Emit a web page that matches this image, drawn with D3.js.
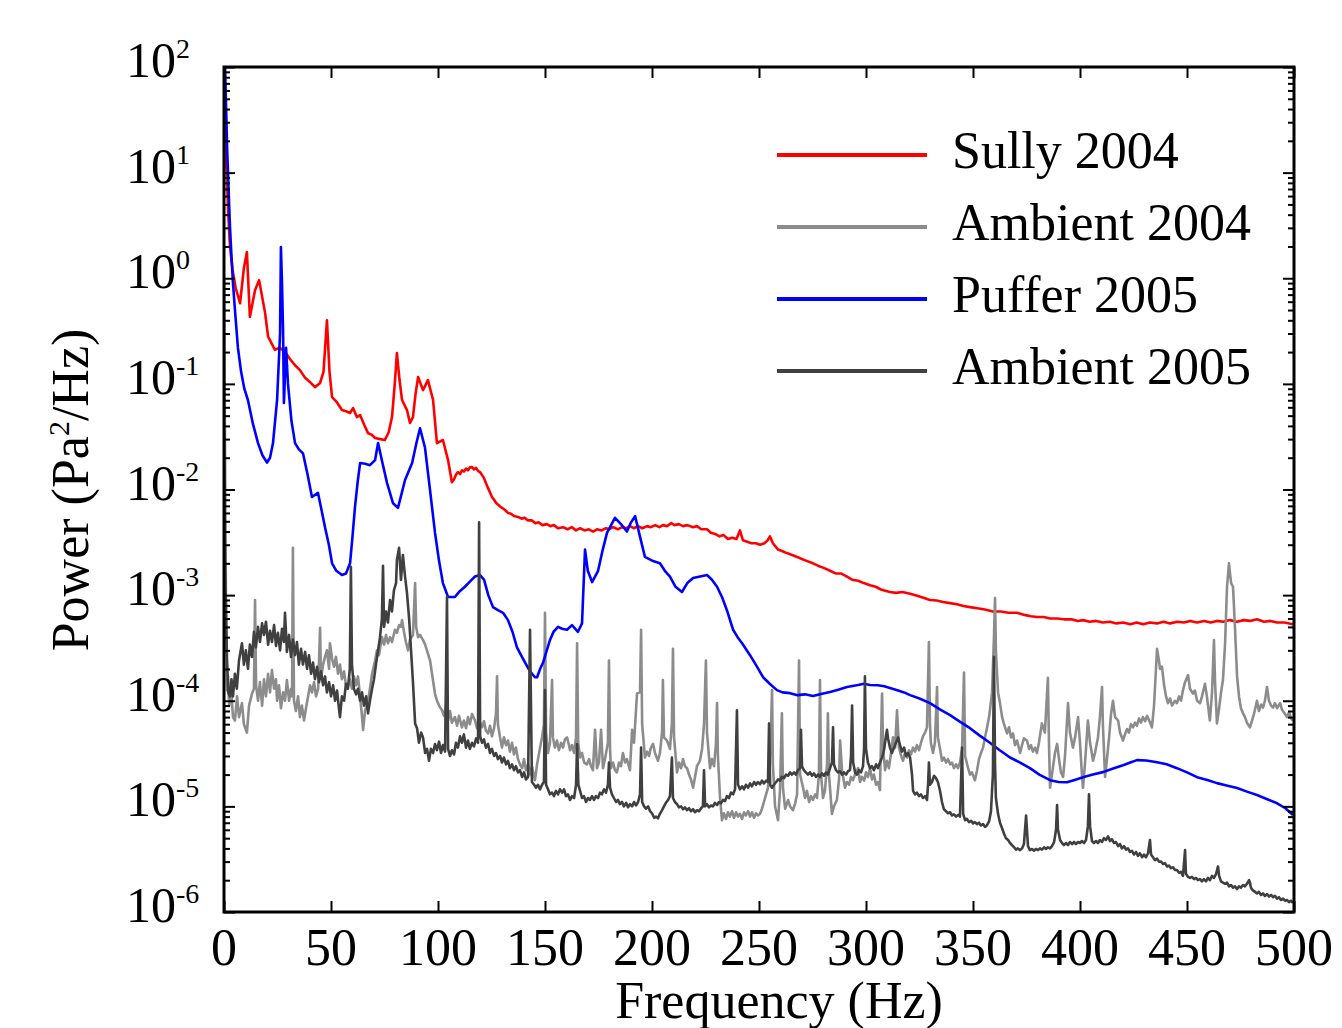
<!DOCTYPE html>
<html><head><meta charset="utf-8">
<script src="https://cdn.jsdelivr.net/npm/d3@7"></script>
<style>body{margin:0;background:#fff}</style>
</head><body><svg id="c" width="1342" height="1028"></svg>
<script>
// [frequency Hz, power Pa^2/Hz]
const sully2004 = [[0.5,40],[1,13],[2,4.0],[2.8,2.0],[4,1.2],[5.5,0.8],[7.5,0.58],[9.3,1.25],[10.7,1.77],[12.1,0.43],[14.5,0.77],[16.4,0.96],[19.2,0.47],[20.6,0.28],[23.8,0.21],[26,0.22],[28.5,0.20],[31,0.17],[33.2,0.15],[35.5,0.135],[37.9,0.114],[40,0.105],[42.5,0.093],[44.9,0.102],[46.5,0.13],[48.1,0.40],[49.3,0.13],[50.5,0.075],[52.5,0.068],[55.1,0.0565],[57,0.055],[58.9,0.053],[60.3,0.059],[62.1,0.0485],[63.6,0.0507],[65.5,0.041],[67.3,0.0342],[69,0.033],[70.6,0.0307],[73,0.030],[75.2,0.0294],[77,0.035],[78.5,0.0485],[79.8,0.10],[80.8,0.196],[82,0.11],[83.2,0.0703],[85.5,0.0565],[86.9,0.0426],[88.3,0.0485],[89.5,0.08],[90.7,0.116],[93.0,0.0873],[95.3,0.1086],[97.7,0.0703],[99.5,0.0275],[102.3,0.0294],[104.7,0.019],[106.5,0.0117],[107.5,0.0125],[108.4,0.0138],[109.3,0.0146],[110.3,0.0140],[111.2,0.0152],[112.1,0.0148],[113.1,0.0158],[114.0,0.0152],[114.9,0.0162],[115.9,0.0163],[116.8,0.0155],[117.8,0.0160],[118.7,0.0150],[119.6,0.0146],[120.6,0.0137],[121.5,0.0128],[122.4,0.0115],[123.4,0.0103],[124.3,0.0094],[125.2,0.0085],[126.2,0.0080],[127.1,0.0075],[128.0,0.0072],[129.0,0.0069],[130.4,0.0066],[131.3,0.0064],[132.7,0.0060],[134.1,0.0059],[135.5,0.0056],[137.4,0.0055],[139.0,0.0053],[140.5,0.0054],[142.0,0.0051],[143.9,0.0051],[145.5,0.0048],[147.0,0.0049],[148.8,0.0046],[150.9,0.0047],[152.5,0.0045],[154.2,0.0046],[156.0,0.0043],[158.4,0.0044],[160.5,0.0042],[162.5,0.0044],[164.5,0.0041],[166.4,0.0043],[168.5,0.0041],[170.5,0.0042],[172.5,0.0040],[174.3,0.0042],[176.5,0.0041],[178.5,0.0043],[180.0,0.0042],[181.8,0.0044],[184.0,0.0042],[186.0,0.0044],[188.0,0.0043],[189.7,0.0045],[191.5,0.0043],[193.5,0.0045],[195.5,0.0043],[197.7,0.0045],[199.5,0.0044],[201.5,0.0046],[203.5,0.0044],[205.1,0.0046],[207.0,0.0045],[209.0,0.0048],[210.5,0.0046],[212.5,0.0047],[214.5,0.0045],[216.5,0.0046],[219.2,0.0044],[221.0,0.0045],[223.0,0.0042],[225.7,0.0042],[227.5,0.0039],[229.5,0.0038],[231.5,0.0036],[233.5,0.0037],[235.5,0.0034],[237.5,0.0035],[239.5,0.0034],[241.1,0.0041],[242.5,0.0033],[244.5,0.0032],[246.5,0.0031],[248.5,0.0031],[250.5,0.0030],[252.5,0.0031],[254.0,0.0033],[255.1,0.0036],[256.5,0.0031],[258.9,0.0027],[261.0,0.0026],[263.0,0.0025],[265.5,0.0024],[267.8,0.0023],[270.0,0.0022],[272.5,0.0021],[275.2,0.0020],[277.5,0.0019],[280.5,0.0018],[283.2,0.0017],[286.0,0.0016],[288.5,0.0016],[291.1,0.0015],[293.5,0.0014],[296.3,0.00137],[299.0,0.0013],[301.9,0.00124],[304.5,0.0012],[307.0,0.00113],[309.0,0.0011],[311.2,0.00107],[314.0,0.00105],[317.0,0.00107],[320.6,0.00103],[323.5,0.00099],[326.5,0.00095],[329.9,0.0009],[333.0,0.00089],[336.0,0.00086],[339.3,0.00084],[342.5,0.00082],[345.5,0.00079],[348.6,0.00077],[352.0,0.00075],[355.5,0.00073],[359.3,0.0007],[363.0,0.0007],[366.5,0.00068],[370.6,0.00068],[374.0,0.00065],[377.0,0.00063],[379.9,0.00062],[383.0,0.00062],[386.0,0.0006],[389.3,0.0006],[392.5,0.00059],[396.0,0.00059],[399.0,0.00057],[401.4,0.00058],[404.5,0.00056],[407.5,0.00057],[410.7,0.00055],[414.0,0.00056],[417.0,0.00054],[420.1,0.00055],[423.5,0.00053],[426.5,0.00055],[429.5,0.00053],[432.7,0.00055],[436.0,0.00054],[439.0,0.00056],[442.1,0.00054],[445.5,0.00056],[448.5,0.00055],[451.5,0.00057],[454.7,0.00055],[458.0,0.00057],[461.0,0.00055],[464.0,0.00057],[467.0,0.00056],[470.0,0.00058],[473.4,0.00056],[476.5,0.00058],[479.5,0.00057],[482.7,0.00059],[486.0,0.00056],[489.0,0.00057],[492.1,0.00055],[495.5,0.00055],[499.5,0.00053]];

const ambient2004 = [[0,1.0],[0.5,0.0236],[0.9,9.0e-4],[1.4,1.26e-4],[1.9,1.7e-4],[2.4,9e-5],[3.3,1.3e-4],[4.2,7e-5],[5.1,6.5e-5],[6.1,1.1e-4],[7.0,7e-5],[8.4,9.5e-5],[9.3,6e-5],[10.7,5.0e-5],[11.7,9e-5],[13.1,1.17e-4],[14.0,1.3e-4],[14.5,9.0e-4],[15.0,1.4e-4],[15.9,1.0e-4],[16.8,1.5e-4],[17.8,9e-5],[18.7,1.6e-4],[19.6,1.1e-4],[20.6,1.8e-4],[21.5,1.2e-4],[22.4,1.95e-4],[23.4,1.3e-4],[24.3,1.6e-4],[24.8,1.0e-4],[25.7,1.4e-4],[26.6,8.5e-5],[27.6,1.2e-4],[28.5,1.0e-4],[29.4,1.57e-4],[30.4,1.0e-4],[31.3,1.3e-4],[31.8,1.1e-4],[32.2,2.8e-3],[32.7,1.0e-4],[33.6,8e-5],[34.6,1.1e-4],[35.5,7e-5],[36.4,9e-5],[37.4,6.5e-5],[38.3,8.5e-5],[39.3,1.1e-4],[40.2,1.4e-4],[41.1,1.2e-4],[42.1,1.5e-4],[43.0,1.1e-4],[44.0,1.3e-4],[44.9,4.9e-4],[45.3,1.6e-4],[46.3,2.2e-4],[47.2,2.6e-4],[48.1,3.0e-4],[49.1,2.0e-4],[49.5,3.5e-4],[50.5,2.5e-4],[51.4,2.1e-4],[52.3,2.6e-4],[53.3,1.8e-4],[54.2,2.2e-4],[55.1,1.6e-4],[56.1,1.9e-4],[57.0,1.4e-4],[57.9,1.35e-4],[58.9,1.6e-4],[59.8,1.3e-4],[60.7,1.7e-4],[61.7,1.4e-4],[62.6,1.7e-4],[63.6,1.1e-4],[64.5,7e-5],[65.0,5.3e-5],[65.9,8e-5],[67.3,1.0e-4],[68.2,1.3e-4],[69.2,1.8e-4],[70.6,2.4e-4],[71.5,3.0e-4],[72.4,2.7e-4],[73.8,4.0e-4],[74.8,3.4e-4],[75.7,4.2e-4],[76.6,3.5e-4],[77.6,4.0e-4],[78.5,3.6e-4],[79.9,4.7e-4],[80.8,4.4e-4],[81.8,5.2e-4],[82.7,5.0e-4],[83.2,5.8e-4],[84.1,4.5e-4],[85.0,3.6e-4],[86.0,3.0e-4],[86.9,3.8e-4],[88.3,4.2e-4],[89.3,1.3e-3],[89.8,5.0e-4],[90.7,4.0e-4],[91.6,4.2e-4],[93.0,3.75e-4],[94.0,3.4e-4],[95.3,2.8e-4],[96.3,2.4e-4],[97.2,1.8e-4],[98.6,1.17e-4],[99.5,1.0e-4],[100.5,9e-5],[101.9,8.1e-5],[102.8,7.2e-5],[103.7,9.0e-5],[104.7,6.5e-5],[105.6,8e-5],[106.5,6.2e-5],[107.9,7.0e-5],[108.9,5.8e-5],[109.8,7.2e-5],[111.2,5.6e-5],[112.1,6.5e-5],[113.1,5.5e-5],[114.0,7.0e-5],[114.9,6.0e-5],[115.9,7.5e-5],[117.3,6.5e-5],[118.2,5.5e-5],[119.2,6.5e-5],[120.6,5.6e-5],[121.5,6.4e-5],[122.4,5.2e-5],[123.4,4.9e-5],[124.3,5.8e-5],[125.2,4.6e-5],[126.2,5.5e-5],[127.1,7.5e-5],[127.6,1.7e-4],[128.0,6.0e-5],[129.0,4.5e-5],[129.9,3.6e-5],[130.8,4.5e-5],[131.8,3.8e-5],[132.7,4.2e-5],[133.6,3.3e-5],[134.6,4.0e-5],[135.5,3.1e-5],[136.4,3.6e-5],[137.4,2.8e-5],[138.3,2.5e-5],[139.3,2.3e-5],[140.2,2.8e-5],[141.1,2.2e-5],[142.1,2.5e-5],[143.0,2.0e-5],[143.9,2.4e-5],[145.3,1.77e-5],[146.3,2.5e-5],[147.7,3.6e-5],[148.6,4.5e-5],[149.5,6e-5],[150.0,6.8e-4],[150.5,5e-5],[151.4,3.2e-5],[152.3,4.0e-5],[153.3,1.57e-4],[153.7,4.5e-5],[154.6,3.6e-5],[155.6,4.2e-5],[156.5,3.4e-5],[157.5,4.0e-5],[158.4,3.6e-5],[159.3,4.3e-5],[160.3,4.5e-5],[161.2,3.8e-5],[161.7,3.4e-5],[162.6,3.8e-5],[163.6,3.2e-5],[164.5,4.5e-5],[165.0,3.5e-4],[165.5,4.0e-5],[166.4,2.9e-5],[167.3,3.2e-5],[168.3,2.6e-5],[169.6,2.5e-5],[170.6,2.8e-5],[171.5,2.4e-5],[172.4,2.2e-5],[173.4,5.3e-5],[174.3,2.3e-5],[175.2,2.6e-5],[176.2,5.3e-5],[177.1,2.3e-5],[178.0,2.8e-5],[179.4,4.0e-5],[179.9,2.4e-4],[180.4,3.5e-5],[180.8,2.3e-5],[181.8,2.6e-5],[182.7,2.2e-5],[183.6,2.1e-5],[184.6,2.6e-5],[185.5,2.4e-5],[186.4,3.2e-5],[187.4,2.6e-5],[188.3,2.8e-5],[189.7,2.2e-5],[190.7,5.3e-5],[191.6,4.0e-5],[193.0,1.17e-4],[194.4,1.2e-4],[194.9,4.7e-4],[195.4,6e-5],[196.7,2.9e-5],[197.7,3.3e-5],[198.6,3.0e-5],[199.5,3.6e-5],[200.5,3.9e-5],[201.4,3.2e-5],[202.8,2.7e-5],[203.7,3.2e-5],[204.7,5.0e-5],[205.1,1.57e-4],[205.6,4.5e-5],[207.0,4.2e-5],[208.4,3.5e-5],[209.3,6.0e-5],[209.8,3.1e-4],[210.3,4.5e-5],[211.7,2.1e-5],[212.6,2.6e-5],[213.6,2.3e-5],[214.5,2.8e-5],[215.4,2.4e-5],[216.4,2.3e-5],[217.3,2.0e-5],[218.2,1.8e-5],[219.2,1.5e-5],[220.1,1.9e-5],[221.0,2.4e-5],[222.4,2.7e-5],[223.4,3.5e-5],[224.3,6e-5],[225.2,2.4e-4],[225.7,5e-5],[226.6,3.0e-5],[227.1,2.3e-5],[228.0,2.8e-5],[229.0,2.4e-5],[229.9,4.0e-5],[230.4,9.5e-5],[230.8,3.0e-5],[231.8,1.2e-5],[232.7,7.4e-6],[233.6,8.6e-6],[234.6,7.6e-6],[235.5,8.8e-6],[236.4,8.0e-6],[237.4,9.0e-6],[238.3,7.8e-6],[239.3,8.8e-6],[240.2,8.0e-6],[241.1,8.5e-6],[242.1,7.6e-6],[243.0,8.8e-6],[243.9,8.2e-6],[244.9,9.0e-6],[245.8,8.0e-6],[246.7,8.8e-6],[247.7,7.8e-6],[248.6,8.6e-6],[249.5,8.2e-6],[250.5,8.5e-6],[251.4,9.5e-6],[252.3,1.1e-5],[253.3,1.3e-5],[254.2,1.5e-5],[255.1,2.5e-5],[256.1,1.26e-4],[256.5,2.5e-5],[257.5,1.0e-5],[258.9,7.4e-6],[259.8,1.4e-5],[260.7,7.6e-5],[261.2,1.5e-5],[262.2,9.5e-6],[263.6,1.15e-5],[264.5,1.0e-5],[265.9,9.2e-6],[266.8,1.05e-5],[267.8,1.3e-5],[268.7,2.4e-4],[269.2,2.0e-5],[270.6,1.5e-5],[271.5,1.2e-5],[272.4,1.4e-5],[273.4,1.1e-5],[274.3,1.25e-5],[275.2,1.15e-5],[276.2,1.3e-5],[277.1,1.2e-5],[278.0,2.0e-5],[278.5,1.57e-4],[279.0,2.0e-5],[279.9,1.2e-5],[280.8,1.4e-5],[281.8,2.5e-5],[282.2,7.6e-5],[282.7,2.0e-5],[284.1,8.5e-6],[285.0,1.0e-5],[286.4,1.15e-5],[287.4,1.8e-5],[287.9,4.2e-5],[288.8,2.2e-5],[290.2,1.5e-5],[291.1,1.7e-5],[292.1,1.6e-5],[293.0,1.9e-5],[293.9,1.77e-5],[294.9,2.0e-5],[296.3,2.3e-5],[297.2,1.7e-5],[298.1,1.9e-5],[299.1,1.75e-5],[300.0,2.1e-5],[300.9,1.9e-5],[301.9,2.3e-5],[302.8,1.8e-5],[303.7,2.0e-5],[304.7,1.6e-5],[305.6,1.7e-5],[306.5,1.42e-5],[307.0,4e-5],[307.5,1.17e-4],[308.0,3.5e-5],[308.9,2.2e-5],[309.8,2.7e-5],[310.7,2.3e-5],[311.7,3.2e-5],[312.6,4.5e-5],[313.6,3.6e-5],[314.5,8.1e-5],[315.4,3.6e-5],[316.4,3.0e-5],[317.3,2.7e-5],[318.2,3.2e-5],[319.2,2.9e-5],[320.1,3.4e-5],[321.0,3.1e-5],[322.0,3.6e-5],[322.9,3.3e-5],[323.8,3.8e-5],[324.8,3.4e-5],[325.7,4.0e-5],[326.6,4.6e-5],[327.6,5.0e-5],[328.5,5.6e-5],[329.4,3.6e-4],[329.9,6e-5],[330.3,4.0e-5],[331.3,3.2e-5],[332.2,4.0e-5],[333.2,1.35e-4],[333.6,4.5e-5],[334.6,3.5e-5],[335.5,2.7e-5],[336.4,2.9e-5],[337.4,2.6e-5],[338.3,2.8e-5],[339.3,2.5e-5],[340.2,2.6e-5],[341.1,2.3e-5],[342.1,2.5e-5],[343.0,2.3e-5],[343.9,2.6e-5],[344.9,3.5e-5],[345.8,1.85e-4],[346.3,3.0e-5],[347.7,2.3e-5],[348.6,2.0e-5],[349.5,2.1e-5],[350.9,1.77e-5],[351.9,2.2e-5],[352.8,2.8e-5],[353.7,3.2e-5],[354.7,3.6e-5],[355.6,4.5e-5],[356.5,5.5e-5],[357.5,7.0e-5],[357.9,8.1e-5],[358.9,1.2e-4],[359.8,4.0e-4],[360.3,9.4e-4],[360.7,3.0e-4],[361.7,1.2e-4],[362.6,9.5e-5],[363.6,7.0e-5],[364.5,6.0e-5],[365.9,4.9e-5],[366.8,5.6e-5],[367.8,4.5e-5],[368.7,4.9e-5],[369.6,3.8e-5],[370.6,4.2e-5],[372.0,3.2e-5],[372.9,3.8e-5],[373.8,4.4e-5],[375.2,4.2e-5],[376.2,3.5e-5],[377.1,3.8e-5],[378.0,3.3e-5],[379.0,3.6e-5],[379.9,3.2e-5],[380.8,4.0e-5],[382.2,6.1e-5],[383.6,5.0e-5],[385.0,1.65e-4],[385.5,4.0e-5],[386.0,1.5e-5],[386.9,2.0e-5],[388.3,3.2e-5],[389.3,3.9e-5],[390.2,2.8e-5],[391.1,2.1e-5],[392.1,1.9e-5],[393.0,3.0e-5],[394.4,9.5e-5],[395.3,5.0e-5],[396.7,3.6e-5],[397.7,4.5e-5],[399.1,7.0e-5],[400.0,4.0e-5],[400.9,2.0e-5],[401.4,1.5e-5],[402.3,2.5e-5],[403.7,6.5e-5],[404.7,4.0e-5],[406.1,2.7e-5],[407.0,3.2e-5],[408.4,4.5e-5],[409.3,7.0e-5],[410.3,1.35e-4],[410.7,6.0e-5],[411.7,1.9e-5],[412.6,2.8e-5],[413.6,4.5e-5],[414.5,7.5e-5],[415.4,1.0e-4],[416.4,7.0e-5],[417.8,6.5e-5],[418.7,5.0e-5],[420.1,4.2e-5],[421.0,4.8e-5],[422.0,5.4e-5],[422.9,5.0e-5],[423.8,6.0e-5],[424.8,5.6e-5],[425.7,6.2e-5],[426.6,5.8e-5],[427.6,6.8e-5],[428.5,6.2e-5],[429.4,7.0e-5],[430.4,6.4e-5],[431.3,7.2e-5],[432.2,6.6e-5],[433.6,5.6e-5],[434.6,9.0e-5],[435.5,2.0e-4],[436.0,3.1e-4],[436.9,2.4e-4],[437.4,2.0e-4],[438.3,2.1e-4],[439.3,1.4e-4],[440.2,1.1e-4],[441.1,9.5e-5],[442.1,1.05e-4],[443.0,9.0e-5],[444.4,1.0e-4],[445.3,9.5e-5],[446.3,1.1e-4],[447.2,1.0e-4],[448.1,1.26e-4],[449.1,1.5e-4],[450.5,1.75e-4],[451.4,1.3e-4],[452.8,1.17e-4],[453.7,1.25e-4],[454.7,1.0e-4],[456.1,9.5e-5],[457.0,1.1e-4],[458.4,1.45e-4],[459.3,1.1e-4],[460.3,7.5e-5],[460.7,6.5e-5],[461.7,1.2e-4],[462.6,3.75e-4],[463.1,1.5e-4],[464.0,6.1e-5],[465.0,8.5e-5],[465.9,1.2e-4],[466.8,1.57e-4],[467.8,3.5e-4],[468.7,1.2e-3],[469.6,2.0e-3],[470.6,1.3e-3],[471.5,1.2e-3],[472.4,5.0e-4],[473.4,1.7e-4],[474.3,1.1e-4],[475.2,8.5e-5],[476.2,7.6e-5],[477.1,7.0e-5],[478.0,6.2e-5],[479.4,5.6e-5],[480.4,6.5e-5],[481.3,7.5e-5],[482.7,1.0e-4],[483.6,8.0e-5],[484.6,9.2e-5],[485.5,8.6e-5],[486.4,1.0e-4],[487.4,1.35e-4],[488.3,1.0e-4],[489.3,9.0e-5],[490.2,8.6e-5],[491.1,9.5e-5],[492.1,8.5e-5],[493.5,9.5e-5],[494.4,8.2e-5],[495.8,7.5e-5],[496.7,7.0e-5],[497.7,7.8e-5],[498.6,6.8e-5],[499.5,6.5e-5]];

const puffer2005 = [[0,180],[0.5,100],[1,40],[1.5,16],[1.9,9.9],[2.4,5],[2.8,3.05],[3.5,1.6],[4.2,0.9],[5.3,0.45],[6.5,0.22],[8,0.13],[9.5,0.09],[11.2,0.07],[13.5,0.042],[15.9,0.0275],[18,0.021],[20.1,0.018],[21.5,0.02],[22.9,0.0275],[24.8,0.07],[26.2,0.3],[26.6,1.97],[27.1,0.9],[27.6,0.32],[28.0,0.066],[29.0,0.22],[29.9,0.10],[31.5,0.045],[33.2,0.0275],[35,0.024],[36.9,0.022],[39,0.014],[41.1,0.0085],[43.9,0.0093],[45.5,0.0065],[47.2,0.0044],[49,0.003],[50.5,0.002],[52.5,0.0017],[55.1,0.00155],[57,0.0016],[58.9,0.002],[60,0.0035],[61.2,0.0068],[62.5,0.012],[63.6,0.0178],[66,0.0175],[68.2,0.017],[70.6,0.019],[72.0,0.0275],[74,0.018],[76.2,0.0115],[79.0,0.0074],[81.3,0.0067],[84.6,0.0123],[87.9,0.0178],[90,0.028],[91.6,0.038],[93.9,0.025],[96,0.011],[98.6,0.0039],[100.5,0.0021],[102.3,0.0013],[104.7,0.00096],[107.9,0.00096],[110,0.00108],[112.6,0.0012],[115,0.00135],[117.3,0.0015],[119.6,0.00155],[121.5,0.0014],[123.5,0.001],[125.7,0.00077],[128,0.00072],[130.4,0.00068],[132.7,0.00058],[134.8,0.00045],[136.9,0.00032],[138.8,0.00027],[140.7,0.00023],[143,0.00019],[145.3,0.000167],[146.3,0.000167],[147.7,0.0002],[149.1,0.00023],[152.3,0.000375],[154,0.00045],[156.1,0.0005],[158,0.00048],[160.3,0.00047],[162.6,0.00052],[165.4,0.00045],[167.3,0.00054],[168.7,0.0027],[170,0.0017],[172.0,0.00133],[174.8,0.0017],[177,0.0027],[179.0,0.0039],[182.7,0.0054],[185.5,0.0047],[188.3,0.0040],[190,0.0048],[192.1,0.0056],[194.5,0.0035],[196.7,0.0023],[198.5,0.0022],[200.5,0.0021],[203.7,0.002],[206,0.0017],[208.4,0.0015],[211,0.0012],[214.0,0.00107],[216.5,0.0013],[219.2,0.00145],[222.5,0.0015],[225.7,0.00155],[228,0.0014],[230.4,0.0012],[232.8,0.00095],[235.0,0.00072],[237.9,0.00047],[240,0.0004],[242.1,0.00035],[245.8,0.00027],[248.5,0.00022],[251.9,0.000167],[255,0.000145],[258.4,0.000126],[261,0.00012],[264.5,0.000118],[268,0.000113],[271.5,0.000115],[275.2,0.000111],[279,0.000116],[283.2,0.000121],[287,0.000127],[291.1,0.000135],[296.3,0.000141],[299,0.000145],[301.9,0.000141],[305.5,0.00014],[308.5,0.000137],[311.2,0.000132],[315,0.000125],[317.8,0.00012],[320.6,0.000113],[325,0.000105],[329.9,9.5e-5],[334.5,8.3e-5],[339.3,7.3e-5],[344,6.3e-5],[348.6,5.5e-5],[353,4.7e-5],[357.9,4.0e-5],[362.5,3.4e-5],[367.3,2.9e-5],[372,2.6e-5],[376.6,2.3e-5],[381,2.0e-5],[386.0,1.77e-5],[390,1.7e-5],[393.9,1.69e-5],[397.5,1.78e-5],[401.4,1.89e-5],[406,2.0e-5],[410.7,2.11e-5],[415.5,2.28e-5],[420.1,2.45e-5],[423.5,2.6e-5],[426.6,2.74e-5],[431,2.72e-5],[436.0,2.62e-5],[440.5,2.5e-5],[445.3,2.3e-5],[450,2.1e-5],[454.7,1.89e-5],[459.5,1.78e-5],[464.0,1.66e-5],[468.5,1.58e-5],[473.4,1.49e-5],[478,1.38e-5],[482.7,1.28e-5],[487.5,1.17e-5],[492.1,1.07e-5],[496,9.6e-6],[499.5,8.3e-6]];

const ambient2005 = [[0,0.0366],[0.5,2.15e-3],[1.0,6e-4],[1.4,2.5e-4],[2.0,1.2e-4],[2.8,1.1e-4],[3.5,1.6e-4],[4.2,1.1e-4],[5.1,1.8e-4],[6.0,1.3e-4],[7.0,2.4e-4],[8.4,3.5e-4],[9.3,2.2e-4],[10.2,3.0e-4],[11.2,2.0e-4],[12.1,3.4e-4],[13.1,2.6e-4],[14.0,4.5e-4],[14.9,3.2e-4],[15.9,5.0e-4],[16.8,3.6e-4],[17.8,5.4e-4],[18.7,4.2e-4],[19.6,5.6e-4],[20.6,3.4e-4],[21.5,4.6e-4],[22.4,3.6e-4],[23.4,5.2e-4],[24.3,3.3e-4],[25.2,4.4e-4],[26.2,3.0e-4],[27.1,4.8e-4],[28.0,3.6e-4],[28.5,6.8e-4],[29.4,2.9e-4],[30.4,4.2e-4],[31.3,2.6e-4],[32.2,3.8e-4],[33.2,2.7e-4],[34.1,3.6e-4],[35.0,2.2e-4],[36.0,3.1e-4],[36.9,2.2e-4],[37.9,2.9e-4],[38.8,2.0e-4],[39.7,2.7e-4],[40.7,1.8e-4],[41.6,2.3e-4],[42.5,1.6e-4],[43.5,2.1e-4],[44.4,1.5e-4],[45.3,1.9e-4],[46.3,1.4e-4],[47.2,1.7e-4],[48.1,1.2e-4],[49.1,1.5e-4],[50.0,1.1e-4],[51.0,1.4e-4],[51.9,1.0e-4],[52.8,1.25e-4],[53.7,8.5e-5],[54.2,7.0e-5],[55.1,1.1e-4],[56.1,1.0e-4],[57.0,1.45e-4],[57.9,1.3e-4],[58.8,2.0e-4],[59.3,1.85e-3],[59.8,2.2e-4],[60.7,1.3e-4],[61.7,1.15e-4],[62.6,1.3e-4],[63.6,1.0e-4],[64.5,1.2e-4],[65.4,9.0e-5],[66.4,1.1e-4],[67.3,7.6e-5],[68.2,1.0e-4],[69.2,1.3e-4],[70.1,1.6e-4],[71.0,2.2e-4],[72.0,3.0e-4],[72.9,4.0e-4],[73.8,6.0e-4],[74.3,1.9e-3],[74.8,5.0e-4],[75.7,7.0e-4],[76.6,5.5e-4],[77.6,9.0e-4],[78.5,7.0e-4],[79.4,1.11e-3],[80.4,1.3e-3],[80.8,2.15e-3],[81.8,2.8e-3],[82.7,1.39e-3],[83.6,2.4e-3],[84.6,1.5e-3],[85.5,1.05e-3],[86.5,6.0e-4],[87.4,3.0e-4],[88.3,1.5e-4],[89.3,6.1e-5],[90.2,5.5e-5],[91.1,4.0e-5],[92.1,5.0e-5],[93.0,4.5e-5],[94.0,3.2e-5],[94.9,3.5e-5],[95.8,2.7e-5],[96.7,3.5e-5],[97.7,3.2e-5],[98.6,3.9e-5],[99.5,3.4e-5],[100.5,4.1e-5],[101.4,3.2e-5],[102.3,3.8e-5],[103.3,3.3e-5],[104.2,9.6e-4],[104.7,3.5e-5],[105.6,3.0e-5],[106.5,3.4e-5],[107.5,3.1e-5],[108.4,4.0e-5],[109.3,3.6e-5],[110.3,4.6e-5],[111.2,4.0e-5],[112.1,4.8e-5],[113.1,3.6e-5],[114.0,4.2e-5],[114.9,3.5e-5],[115.9,4.0e-5],[116.8,3.7e-5],[117.8,4.4e-5],[118.7,4.0e-5],[119.2,4.9e-3],[119.7,4.6e-5],[120.6,4.0e-5],[121.5,4.3e-5],[122.4,3.6e-5],[123.4,3.9e-5],[124.3,3.2e-5],[125.2,3.5e-5],[126.2,3.0e-5],[127.1,3.2e-5],[128.0,2.8e-5],[129.0,3.0e-5],[129.9,2.6e-5],[130.8,2.9e-5],[131.8,2.5e-5],[132.7,2.7e-5],[133.6,2.3e-5],[134.6,2.5e-5],[135.5,2.2e-5],[136.4,2.4e-5],[137.4,2.1e-5],[138.3,2.2e-5],[139.3,1.9e-5],[140.2,2.1e-5],[141.1,1.8e-5],[142.1,1.9e-5],[143.0,4.7e-4],[143.9,1.7e-5],[144.9,1.6e-5],[145.8,1.5e-5],[146.7,1.6e-5],[147.7,1.45e-5],[148.6,1.6e-5],[149.5,1.7e-5],[150.0,1.26e-4],[150.5,1.6e-5],[151.4,1.45e-5],[152.3,1.3e-5],[153.3,1.35e-5],[154.2,1.25e-5],[155.1,1.4e-5],[156.1,1.3e-5],[157.0,1.45e-5],[158.0,1.35e-5],[158.9,1.45e-5],[159.8,1.25e-5],[160.7,1.3e-5],[161.7,1.15e-5],[162.6,1.25e-5],[163.6,1.2e-5],[164.5,1.6e-5],[165.0,3.9e-5],[165.6,1.6e-5],[166.4,1.4e-5],[167.3,1.2e-5],[168.2,1.25e-5],[169.2,1.1e-5],[170.1,1.2e-5],[171.0,1.15e-5],[172.0,1.25e-5],[172.9,1.15e-5],[173.8,1.25e-5],[174.8,1.2e-5],[175.7,1.35e-5],[176.6,1.3e-5],[177.6,1.45e-5],[178.5,1.35e-5],[179.4,1.6e-5],[179.9,2.6e-5],[180.4,1.5e-5],[181.3,1.3e-5],[182.2,1.2e-5],[183.2,1.1e-5],[184.1,1.15e-5],[185.0,1.05e-5],[186.0,1.1e-5],[186.9,1.0e-5],[187.9,1.08e-5],[188.8,9.8e-6],[189.7,1.05e-5],[190.7,1.0e-5],[191.6,1.1e-5],[192.5,1.02e-5],[193.5,1.1e-5],[194.4,1.3e-5],[194.9,3.6e-5],[195.4,1.1e-5],[196.3,1.0e-5],[197.2,9.5e-6],[198.2,1.0e-5],[199.1,9.0e-6],[200.0,8.6e-6],[201.0,7.8e-6],[201.9,8.0e-6],[202.8,7.7e-6],[203.7,8.5e-6],[204.7,9.2e-6],[205.6,1.0e-5],[206.5,1.08e-5],[207.5,1.15e-5],[208.4,1.25e-5],[209.3,2.9e-5],[209.8,1.2e-5],[210.7,1.1e-5],[211.7,1.05e-5],[212.6,9.8e-6],[213.6,1.0e-5],[214.5,9.4e-6],[215.4,9.8e-6],[216.4,9.2e-6],[217.3,9.6e-6],[218.2,9.0e-6],[219.2,9.4e-6],[220.1,8.8e-6],[221.0,9.2e-6],[222.0,9.0e-6],[222.9,9.6e-6],[223.8,1.0e-5],[224.3,2.2e-5],[224.8,1.0e-5],[225.7,1.05e-5],[226.6,9.8e-6],[227.6,1.02e-5],[228.5,1.0e-5],[229.4,1.08e-5],[230.4,1.03e-5],[231.3,1.1e-5],[232.2,1.07e-5],[233.2,1.15e-5],[234.1,1.12e-5],[235.0,1.25e-5],[236.0,1.2e-5],[236.9,1.35e-5],[237.9,1.3e-5],[238.8,1.45e-5],[239.7,8.1e-5],[240.2,1.6e-5],[241.1,1.45e-5],[242.1,1.55e-5],[243.0,1.45e-5],[243.9,1.6e-5],[244.9,1.5e-5],[245.8,1.65e-5],[246.7,1.55e-5],[247.7,1.7e-5],[248.6,1.6e-5],[249.5,1.7e-5],[250.5,1.62e-5],[251.4,1.75e-5],[252.3,1.65e-5],[253.3,1.75e-5],[254.2,1.7e-5],[254.7,6.1e-5],[255.2,1.6e-5],[256.1,1.5e-5],[257.0,1.6e-5],[258.0,1.7e-5],[258.9,1.8e-5],[259.8,1.75e-5],[260.7,1.9e-5],[261.7,1.85e-5],[262.6,2.0e-5],[263.6,1.95e-5],[264.5,2.1e-5],[265.4,2.0e-5],[266.4,2.1e-5],[267.3,2.0e-5],[268.2,2.2e-5],[269.2,2.3e-5],[269.6,5.3e-5],[270.1,2.4e-5],[271.0,2.2e-5],[271.9,2.1e-5],[272.9,2.0e-5],[273.8,2.1e-5],[274.8,1.95e-5],[275.7,2.05e-5],[276.6,1.9e-5],[277.6,2.0e-5],[278.5,1.9e-5],[279.4,2.05e-5],[280.4,1.95e-5],[281.3,2.1e-5],[282.2,2.0e-5],[283.2,2.3e-5],[284.1,2.6e-5],[284.6,5.6e-5],[285.0,2.5e-5],[286.0,2.2e-5],[286.9,2.1e-5],[287.9,2.15e-5],[288.8,2.0e-5],[289.7,2.1e-5],[290.7,2.0e-5],[291.6,2.15e-5],[292.5,2.2e-5],[293.0,3.0e-5],[293.5,9.0e-5],[294.0,2.6e-5],[294.9,2.1e-5],[295.8,2.0e-5],[296.7,2.2e-5],[297.7,2.1e-5],[298.6,2.4e-5],[299.1,3.5e-5],[299.5,1.7e-4],[300.0,3.5e-5],[300.9,2.6e-5],[301.9,2.3e-5],[302.8,2.4e-5],[303.7,2.2e-5],[304.7,2.5e-5],[305.6,2.3e-5],[306.5,2.6e-5],[307.5,2.9e-5],[308.4,3.4e-5],[309.3,4.6e-5],[309.8,5.3e-5],[310.3,4.4e-5],[311.2,3.6e-5],[312.1,3.2e-5],[313.1,3.6e-5],[314.0,4.0e-5],[315.0,4.5e-5],[315.9,3.8e-5],[316.8,3.3e-5],[317.8,3.6e-5],[318.7,3.0e-5],[319.6,3.2e-5],[320.6,2.9e-5],[321.5,2.0e-5],[322.0,1.4e-5],[322.9,1.3e-5],[323.8,1.35e-5],[324.8,1.25e-5],[325.7,1.3e-5],[326.6,1.2e-5],[327.6,1.25e-5],[328.5,1.15e-5],[329.0,1.6e-5],[329.4,2.6e-5],[329.9,1.6e-5],[330.8,1.7e-5],[331.8,1.95e-5],[332.7,1.85e-5],[333.6,1.7e-5],[334.6,1.4e-5],[335.5,1.1e-5],[336.4,9.4e-6],[337.4,9.0e-6],[338.3,8.6e-6],[339.3,8.8e-6],[340.2,8.2e-6],[341.1,8.4e-6],[342.1,8.0e-6],[343.0,8.3e-6],[343.9,8.0e-6],[344.9,3.6e-5],[345.4,8.5e-6],[346.3,7.4e-6],[347.2,7.6e-6],[348.1,7.1e-6],[349.1,7.3e-6],[350.0,6.9e-6],[350.9,7.1e-6],[351.9,6.8e-6],[352.8,7.0e-6],[353.7,6.6e-6],[354.7,6.8e-6],[355.6,6.4e-6],[356.5,6.6e-6],[357.5,7.2e-6],[358.4,9.0e-6],[359.3,2.0e-5],[359.8,2.6e-4],[360.3,2.5e-5],[360.7,1.2e-5],[361.7,8.5e-6],[362.6,7.0e-6],[363.6,6.2e-6],[364.5,5.5e-6],[365.4,5.0e-6],[366.4,4.8e-6],[367.3,4.5e-6],[368.2,4.3e-6],[369.2,4.1e-6],[370.1,3.9e-6],[371.0,4.0e-6],[372.0,3.85e-6],[372.9,4.0e-6],[373.8,4.4e-6],[374.8,8.2e-6],[375.7,4.2e-6],[376.6,3.85e-6],[377.6,3.95e-6],[378.5,3.8e-6],[379.4,3.95e-6],[380.4,3.85e-6],[381.3,4.0e-6],[382.2,3.9e-6],[383.2,4.1e-6],[384.1,3.95e-6],[385.0,4.1e-6],[386.0,4.0e-6],[386.9,4.2e-6],[387.9,4.6e-6],[388.8,6.0e-6],[389.3,1.03e-5],[389.7,6.0e-6],[390.7,4.8e-6],[391.6,4.5e-6],[392.5,4.3e-6],[393.5,4.5e-6],[394.4,4.3e-6],[395.3,4.6e-6],[396.3,4.4e-6],[397.2,4.6e-6],[398.1,4.4e-6],[399.1,4.6e-6],[400.0,4.5e-6],[400.9,4.7e-6],[401.9,4.5e-6],[402.8,4.8e-6],[403.7,6.5e-6],[404.2,1.3e-5],[404.7,6.5e-6],[405.6,4.7e-6],[406.5,4.5e-6],[407.5,4.7e-6],[408.4,4.5e-6],[409.3,4.8e-6],[410.3,4.6e-6],[411.2,5.0e-6],[412.1,4.8e-6],[413.1,5.2e-6],[414.0,4.7e-6],[414.9,4.9e-6],[415.9,4.5e-6],[416.8,4.6e-6],[417.8,4.2e-6],[418.7,4.4e-6],[419.6,4.0e-6],[420.6,4.2e-6],[421.5,3.9e-6],[422.4,4.0e-6],[423.4,3.7e-6],[424.3,3.8e-6],[425.2,3.5e-6],[426.2,3.7e-6],[427.1,3.4e-6],[428.0,3.6e-6],[429.0,3.3e-6],[429.9,3.5e-6],[430.8,3.3e-6],[431.8,3.6e-6],[432.7,4.8e-6],[433.2,3.5e-6],[434.1,3.3e-6],[435.0,3.1e-6],[436.0,3.2e-6],[436.9,3.0e-6],[437.9,3.0e-6],[438.8,2.85e-6],[439.7,2.9e-6],[440.7,2.7e-6],[441.6,2.75e-6],[442.5,2.6e-6],[443.5,2.65e-6],[444.4,2.5e-6],[445.3,2.5e-6],[446.3,2.35e-6],[447.2,2.4e-6],[448.1,2.2e-6],[449.1,3.85e-6],[449.5,2.3e-6],[450.5,2.15e-6],[451.4,2.1e-6],[452.3,2.15e-6],[453.3,2.05e-6],[454.2,2.1e-6],[455.1,2.0e-6],[456.1,2.05e-6],[457.0,1.95e-6],[457.9,2.05e-6],[458.9,1.95e-6],[459.8,2.1e-6],[460.7,2.0e-6],[461.7,2.2e-6],[462.6,2.1e-6],[463.6,2.3e-6],[464.5,2.7e-6],[465.0,2.2e-6],[465.9,1.95e-6],[466.8,1.9e-6],[467.8,1.85e-6],[468.7,1.9e-6],[469.6,1.75e-6],[470.6,1.8e-6],[471.5,1.7e-6],[472.4,1.75e-6],[473.4,1.65e-6],[474.3,1.75e-6],[475.2,1.7e-6],[476.2,1.8e-6],[477.1,1.75e-6],[478.0,1.85e-6],[479.0,2.0e-6],[479.4,1.9e-6],[479.9,1.7e-6],[480.8,1.6e-6],[481.8,1.55e-6],[482.7,1.5e-6],[483.6,1.55e-6],[484.6,1.45e-6],[485.5,1.5e-6],[486.4,1.42e-6],[487.4,1.48e-6],[488.3,1.4e-6],[489.3,1.45e-6],[490.2,1.38e-6],[491.1,1.42e-6],[492.1,1.34e-6],[493.0,1.38e-6],[493.9,1.3e-6],[494.9,1.34e-6],[495.8,1.28e-6],[496.7,1.3e-6],[497.7,1.24e-6],[498.6,1.28e-6],[499.5,1.22e-6]];

const seriesNames = ["Sully 2004", "Ambient 2004", "Puffer 2005", "Ambient 2005"];
const seriesColors = ["#ff0000", "#8c8c8c", "#0000ff", "#404040"];
const xTickValues = [0, 50, 100, 150, 200, 250, 300, 350, 400, 450, 500];
const yExponents = [2, 1, 0, -1, -2, -3, -4, -5, -6];

const FONT = "'Liberation Serif','Times New Roman',serif";
const svg = d3.select("#c");
const L = 224, R = 1294, T = 67, B = 912;

const x = d3.scaleLinear().domain([0, 500]).range([L, R]);
const y = d3.scaleLog().domain([1e-6, 1e2]).range([B, T]);

svg.append("rect").attr("width", 1342).attr("height", 1028).attr("fill", "#fff");

svg.append("defs").append("clipPath").attr("id", "clip")
  .append("rect").attr("x", L).attr("y", T).attr("width", R - L).attr("height", B - T);

const line = d3.line().x(d => x(d[0])).y(d => y(d[1]));
const allSeries = [sully2004, ambient2004, puffer2005, ambient2005];
const g = svg.append("g").attr("clip-path", "url(#clip)");
allSeries.forEach((s, i) => {
  g.append("path").datum(s).attr("d", line).attr("fill", "none")
    .attr("stroke", seriesColors[i]).attr("stroke-width", 2.6)
    .attr("stroke-linejoin", "round");
});

// ticks
const majorY = yExponents.map(e => Math.pow(10, e));
const minorY = [];
for (let e = -6; e < 2; e++) for (let k = 2; k <= 9; k++) minorY.push(k * Math.pow(10, e));

function styleAxis(sel) {
  sel.select(".domain").remove();
  sel.selectAll("line").attr("stroke", "#000").attr("stroke-width", 2);
  sel.selectAll("text").remove();
}
svg.append("g").attr("transform", `translate(${L},0)`).call(d3.axisLeft(y).tickValues(majorY).tickSize(-11).tickFormat("")).call(styleAxis);
svg.append("g").attr("transform", `translate(${L},0)`).call(d3.axisLeft(y).tickValues(minorY).tickSize(-6).tickFormat("")).call(styleAxis);
svg.append("g").attr("transform", `translate(${R},0)`).call(d3.axisRight(y).tickValues(majorY).tickSize(-11).tickFormat("")).call(styleAxis);
svg.append("g").attr("transform", `translate(${R},0)`).call(d3.axisRight(y).tickValues(minorY).tickSize(-6).tickFormat("")).call(styleAxis);
svg.append("g").attr("transform", `translate(0,${B})`).call(d3.axisBottom(x).tickValues(xTickValues).tickSize(-11).tickFormat("")).call(styleAxis);
svg.append("g").attr("transform", `translate(0,${T})`).call(d3.axisTop(x).tickValues(xTickValues).tickSize(-11).tickFormat("")).call(styleAxis);

// box
svg.append("rect").attr("x", L).attr("y", T).attr("width", R - L).attr("height", B - T)
  .attr("fill", "none").attr("stroke", "#000").attr("stroke-width", 3);

// x tick labels
svg.append("g").selectAll("text").data(xTickValues).join("text")
  .attr("x", d => x(d)).attr("y", B + 53).attr("text-anchor", "middle")
  .attr("font-family", FONT).attr("font-size", 52).attr("fill", "#000")
  .text(d => d);

// y tick labels
const yl = svg.append("g").selectAll("text").data(yExponents).join("text")
  .attr("x", 126).attr("y", d => y(Math.pow(10, d)) + 10)
  .attr("font-family", FONT).attr("font-size", 50).attr("fill", "#000");
yl.append("tspan").text("10");
yl.append("tspan").attr("font-size", 28).attr("dy", -19).text(d => d < 0 ? "-" + (-d) : d);

// axis titles
svg.append("text").attr("x", 779).attr("y", 1018).attr("text-anchor", "middle")
  .attr("font-family", FONT).attr("font-size", 52).text("Frequency (Hz)");
const yt = svg.append("text").attr("transform", "translate(88,490) rotate(-90)")
  .attr("text-anchor", "middle").attr("font-family", FONT).attr("font-size", 52);
yt.append("tspan").text("Power (Pa");
yt.append("tspan").attr("font-size", 30).attr("dy", -19).text("2");
yt.append("tspan").attr("dy", 19).text("/Hz)");

// legend
const lg = svg.append("g").selectAll("g").data(seriesNames).join("g")
  .attr("transform", (d, i) => `translate(0,${155 + i * 72})`);
lg.append("line").attr("x1", 777).attr("x2", 927).attr("y1", 0).attr("y2", 0)
  .attr("stroke", (d, i) => seriesColors[i]).attr("stroke-width", 4);
lg.append("text").attr("x", 952).attr("y", 13).attr("font-family", FONT)
  .attr("font-size", 52).text(d => d);
</script></body></html>
